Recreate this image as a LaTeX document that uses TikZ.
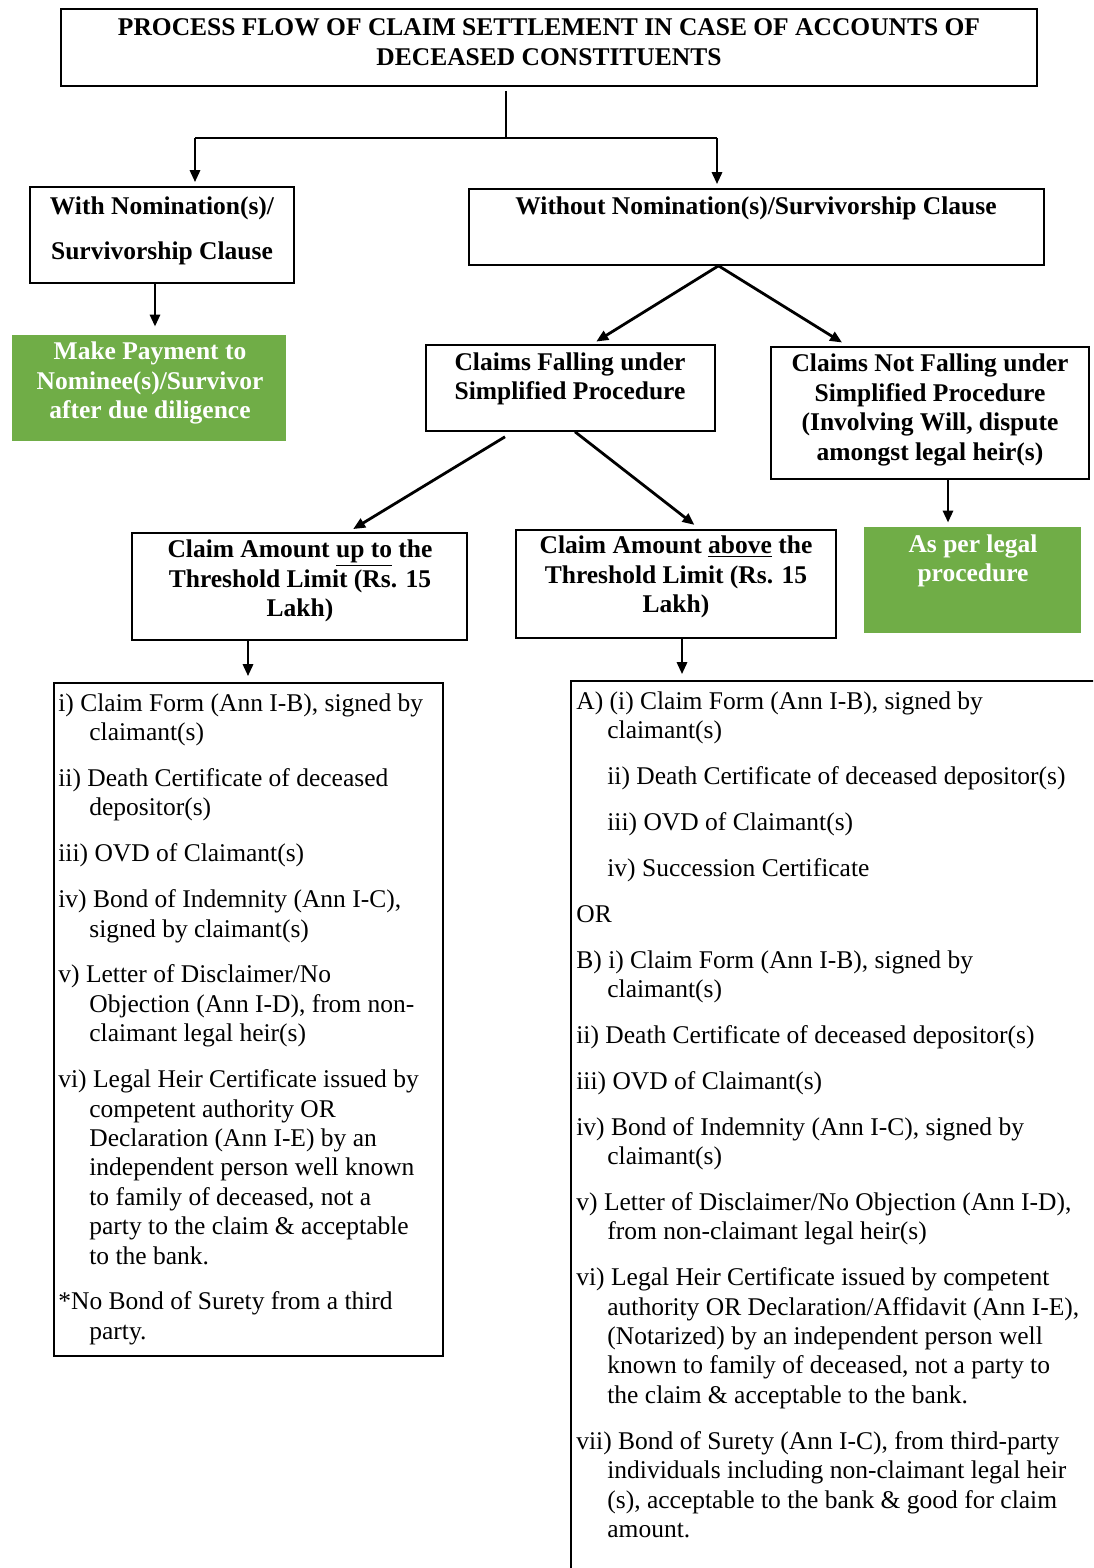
\documentclass[tikz,border=0pt]{standalone}
\usepackage{fontspec}
\setmainfont{Liberation Serif}
\usetikzlibrary{arrows.meta}
\definecolor{pgreen}{HTML}{70AD47}
\newcommand{\ind}{\hspace*{15.5pt}}
\newcommand{\gap}{8.25pt}

\begin{document}
\begin{tikzpicture}[x={(0.5pt,0pt)},y={(0pt,-0.5pt)},
  box/.style={draw, line width=0.8pt, inner sep=0pt},
  greenbox/.style={fill=pgreen, inner sep=0pt},
  head/.style={font=\fontsize{12.75pt}{14.8pt}\selectfont\bfseries, align=center, inner sep=0pt},
  ghead/.style={head, text=white},
  list/.style={font=\fontsize{12.75pt}{14.7pt}\selectfont, align=left, inner sep=0pt, anchor=north west},
  arr/.style={line width=1.4pt, -{Triangle[length=6pt,width=5pt]}, shorten >=2pt}]
\useasboundingbox (0,0) rectangle (1093,1568);
\clip (0,0) rectangle (1093,1568);

% boxes
\node[box, minimum width=488pt, minimum height=38.5pt] (title) at (549,47.5) {};
\node[head] (title-t) at (549,42) {PROCESS FLOW OF CLAIM SETTLEMENT IN CASE OF ACCOUNTS OF\\DECEASED CONSTITUENTS};

\node[box, minimum width=132pt, minimum height=48pt] (wn) at (162,235) {};
\node[head] (wn-t) at (162,231) {With Nomination(s)/\\[8pt]Survivorship Clause};

\node[box, minimum width=287.5pt, minimum height=38pt] (wo) at (756.5,227) {};
\node[head] (wo-t) at (756,208) {Without Nomination(s)/Survivorship Clause};

\node[greenbox, minimum width=137pt, minimum height=53pt] (pay) at (149,388) {};
\node[ghead] (pay-t) at (150,383) {Make Payment to\\Nominee(s)/Survivor\\after due diligence};

\node[box, minimum width=144.5pt, minimum height=43pt] (cf) at (570.5,388) {};
\node[head] (cf-t) at (570,379) {Claims Falling under\\Simplified Procedure};

\node[box, minimum width=159pt, minimum height=66pt] (cnf) at (930,413) {};
\node[head] (cnf-t) at (930,410) {Claims Not Falling under\\Simplified Procedure\\(Involving Will, dispute\\amongst legal heir(s)};

\node[greenbox, minimum width=108.5pt, minimum height=53pt] (legal) at (972.5,580) {};
\node[ghead] (legal-t) at (973,561) {As per legal\\procedure};

\node[box, minimum width=167.5pt, minimum height=53.5pt] (upto) at (299.5,586.5) {};
\node[head] (upto-t) at (300,581) {Claim Amount \underline{up to} the\\Threshold Limit (Rs. 15\\Lakh)};

\node[box, minimum width=160pt, minimum height=54pt] (above) at (676,584) {};
\node[head] (above-t) at (676,577) {Claim Amount \underline{above} the\\Threshold Limit (Rs. 15\\Lakh)};

\node[box, minimum width=194.5pt, minimum height=336.5pt] (docs1) at (248.5,1019.5) {};
\node[list] (docs1-t) at (58,693) {i) Claim Form (Ann I-B), signed by\\
\ind claimant(s)\\[\gap]
ii) Death Certificate of deceased\\
\ind depositor(s)\\[\gap]
iii) OVD of Claimant(s)\\[\gap]
iv) Bond of Indemnity (Ann I-C),\\
\ind signed by claimant(s)\\[\gap]
v) Letter of Disclaimer/No\\
\ind Objection (Ann I-D), from non-\\
\ind claimant legal heir(s)\\[\gap]
vi) Legal Heir Certificate issued by\\
\ind competent authority OR\\
\ind Declaration (Ann I-E) by an\\
\ind independent person well known\\
\ind to family of deceased, not a\\
\ind party to the claim \& acceptable\\
\ind to the bank.\\[\gap]
*No Bond of Surety from a third\\
\ind party.};

\node[box, minimum width=263pt, minimum height=449.5pt] (docs2) at (834,1130.5) {};
\node[list] (docs2-t) at (576,691) {A) (i) Claim Form (Ann I-B), signed by\\
\ind claimant(s)\\[\gap]
\ind ii) Death Certificate of deceased depositor(s)\\[\gap]
\ind iii) OVD of Claimant(s)\\[\gap]
\ind iv) Succession Certificate\\[\gap]
OR\\[\gap]
B) i) Claim Form (Ann I-B), signed by\\
\ind claimant(s)\\[\gap]
ii) Death Certificate of deceased depositor(s)\\[\gap]
iii) OVD of Claimant(s)\\[\gap]
iv) Bond of Indemnity (Ann I-C), signed by\\
\ind claimant(s)\\[\gap]
v) Letter of Disclaimer/No Objection (Ann I-D),\\
\ind from non-claimant legal heir(s)\\[\gap]
vi) Legal Heir Certificate issued by competent\\
\ind authority OR Declaration/Affidavit (Ann I-E),\\
\ind (Notarized) by an independent person well\\
\ind known to family of deceased, not a party to\\
\ind the claim \& acceptable to the bank.\\[\gap]
vii) Bond of Surety (Ann I-C), from third-party\\
\ind individuals including non-claimant legal heir\\
\ind (s), acceptable to the bank \& good for claim\\
\ind amount.};

% connectors
\coordinate (j) at (506,138);
\coordinate (jl) at (195,138);
\coordinate (jr) at (717,138);
\draw[line width=0.6pt] ([yshift=-2pt]title.south -| j) -- (j);
\draw[line width=1.4pt] (jl) -- (jr);
\draw[arr] (jl) -- (jl |- wn.north);
\draw[arr] (jr) -- (jr |- wo.north);

\draw[arr, shorten >=4pt] ([xshift=-3.5pt]wn.south) -- ([xshift=-3.5pt]wn.south |- pay.north);
\draw[arr, shorten >=2.5pt] ([xshift=-19pt]wo.south) -- ([xshift=10.75pt]cf.north);
\draw[arr, shorten >=3.5pt] ([xshift=-19pt]wo.south) -- ([xshift=-41pt]cnf.north);
\draw[arr, shorten >=3pt] ([xshift=-32.75pt,yshift=-2.5pt]cf.south) -- ([xshift=24.25pt]upto.north);
\draw[arr, shorten >=3.5pt] ([xshift=2.25pt]cf.south) -- ([xshift=12pt]above.north);
\draw[arr] ([xshift=9pt]cnf.south) -- ([xshift=9pt]cnf.south |- legal.north);
\draw[arr, shorten >=3pt] ([xshift=-25.75pt]upto.south) -- ([xshift=-25.75pt]upto.south |- docs1.north);
\draw[arr, shorten >=3pt] ([xshift=3pt]above.south) -- ([xshift=3pt]above.south |- docs2.north);
\end{tikzpicture}
\end{document}
